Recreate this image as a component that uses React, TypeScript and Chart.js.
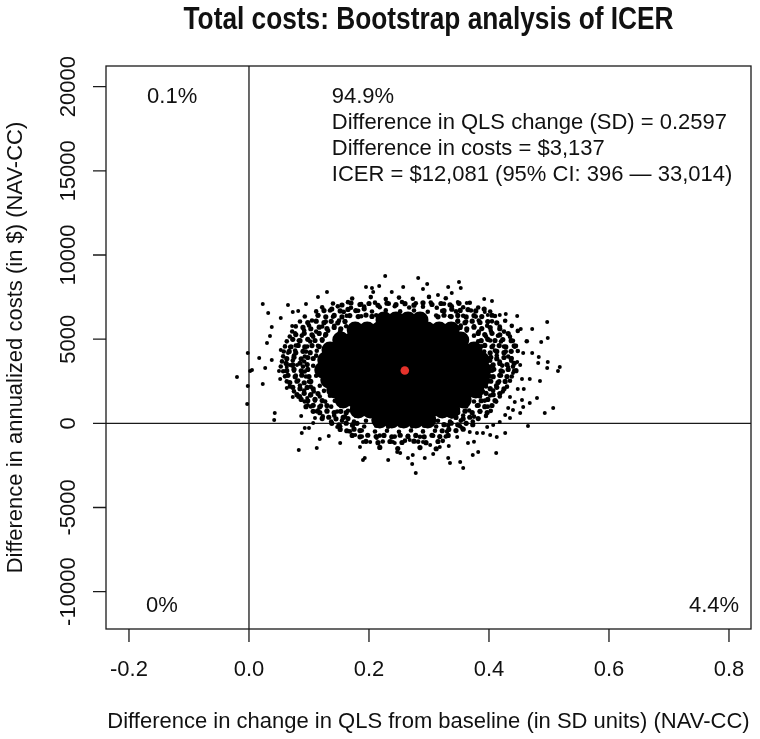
import React, { useEffect, useRef } from "react";
import { Chart, registerables } from "chart.js";

Chart.register(...registerables);

// ---- axis ticks ----
const xTickValues = [-0.2, 0, 0.2, 0.4, 0.6, 0.8];
const xTickLabels = ["-0.2", "0.0", "0.2", "0.4", "0.6", "0.8"];
const yTickValues = [-10000, -5000, 0, 5000, 10000, 15000, 20000];
const yTickLabels = ["-10000", "-5000", "0", "5000", "10000", "15000", "20000"];

// ---- texts ----
const chartTitle = "Total costs: Bootstrap analysis of ICER";
const xAxisTitle = "Difference in change in QLS from baseline (in SD units) (NAV-CC)";
const yAxisTitle = "Difference in annualized costs (in $) (NAV-CC)";
const quadrantTexts = ["0.1%", "0%", "4.4%"];
const summaryLines = [
  "94.9%",
  "Difference in QLS change (SD) = 0.2597",
  "Difference in costs = $3,137",
  "ICER = $12,081 (95% CI: 396 \u2014 33,014)",
];

// ---- data: mean estimate ----
const meanPoint = [[0.2597, 3137]];

// ---- data: dense centre of the bootstrap cloud ----
const cloudCore = [
  [0.225, 6140], [0.245, 6140], [0.265, 6140], [0.285, 6140],
  [0.177, 5545], [0.197, 5545], [0.217, 5545], [0.237, 5545], [0.257, 5545], [0.277, 5545], [0.297, 5545], [0.317, 5545], [0.337, 5545],
  [0.153, 4950], [0.173, 4950], [0.193, 4950], [0.213, 4950], [0.233, 4950], [0.253, 4950], [0.273, 4950], [0.293, 4950], [0.313, 4950], [0.333, 4950], [0.353, 4950],
  [0.135, 4355], [0.155, 4355], [0.175, 4355], [0.195, 4355], [0.215, 4355], [0.235, 4355], [0.255, 4355], [0.275, 4355], [0.295, 4355], [0.315, 4355], [0.335, 4355], [0.355, 4355], [0.375, 4355],
  [0.128, 3760], [0.148, 3760], [0.168, 3760], [0.188, 3760], [0.208, 3760], [0.228, 3760], [0.248, 3760], [0.268, 3760], [0.288, 3760], [0.308, 3760], [0.328, 3760], [0.348, 3760], [0.368, 3760], [0.387, 3760],
  [0.123, 3165], [0.143, 3165], [0.163, 3165], [0.183, 3165], [0.203, 3165], [0.223, 3165], [0.243, 3165], [0.263, 3165], [0.283, 3165], [0.303, 3165], [0.323, 3165], [0.343, 3165], [0.363, 3165], [0.383, 3165], [0.39, 3165],
  [0.133, 2575], [0.153, 2575], [0.173, 2575], [0.193, 2575], [0.213, 2575], [0.233, 2575], [0.253, 2575], [0.273, 2575], [0.293, 2575], [0.313, 2575], [0.333, 2575], [0.353, 2575], [0.373, 2575], [0.387, 2575],
  [0.143, 1980], [0.163, 1980], [0.183, 1980], [0.203, 1980], [0.223, 1980], [0.243, 1980], [0.263, 1980], [0.283, 1980], [0.303, 1980], [0.323, 1980], [0.343, 1980], [0.363, 1980], [0.378, 1980],
  [0.157, 1385], [0.177, 1385], [0.197, 1385], [0.217, 1385], [0.237, 1385], [0.257, 1385], [0.277, 1385], [0.297, 1385], [0.317, 1385], [0.337, 1385], [0.357, 1385],
  [0.182, 790], [0.202, 790], [0.222, 790], [0.242, 790], [0.262, 790], [0.282, 790], [0.302, 790], [0.322, 790], [0.338, 790],
  [0.218, 195], [0.238, 195], [0.258, 195], [0.278, 195], [0.298, 195],
];

// ---- data: dense fringe hugging the centre ----
const cloudFringe = [
  [0.155, 7030], [0.17, 7150], [0.185, 7060], [0.2, 7120], [0.215, 7010], [0.23, 7140], [0.245, 7050], [0.26, 7110], [0.275, 7020], [0.29, 7160], [0.305, 7060], [0.32, 7120], [0.335, 7040], [0.35, 7130],
  [0.125, 6700], [0.138, 6790], [0.152, 6680], [0.165, 6770], [0.178, 6700], [0.192, 6800], [0.325, 6690], [0.338, 6780], [0.352, 6710], [0.365, 6760], [0.378, 6680], [0.392, 6790],
  [0.115, 6420], [0.128, 6330], [0.142, 6410], [0.155, 6320], [0.168, 6400], [0.182, 6340], [0.195, 6430], [0.205, 6350], [0.315, 6330], [0.325, 6420], [0.337, 6340], [0.348, 6410], [0.362, 6320], [0.375, 6400], [0.388, 6340], [0.405, 6420],
  [0.098, 5990], [0.112, 6070], [0.125, 5980], [0.137, 6060], [0.148, 5970], [0.16, 6050], [0.348, 6060], [0.36, 5980], [0.372, 6070], [0.385, 5990], [0.398, 6050], [0.413, 5970],
  [0.09, 5700], [0.103, 5620], [0.117, 5710], [0.13, 5630], [0.142, 5700], [0.153, 5620], [0.352, 5700], [0.363, 5620], [0.375, 5710], [0.388, 5630], [0.402, 5690], [0.418, 5620],
  [0.078, 5270], [0.092, 5350], [0.105, 5260], [0.117, 5340], [0.128, 5280], [0.382, 5340], [0.393, 5270], [0.405, 5350], [0.418, 5260], [0.432, 5330],
  [0.073, 4990], [0.085, 4910], [0.098, 4990], [0.11, 4920], [0.122, 4980], [0.387, 4910], [0.398, 4990], [0.41, 4920], [0.423, 4980], [0.437, 4910],
  [0.07, 4550], [0.082, 4630], [0.093, 4540], [0.105, 4620], [0.117, 4560], [0.393, 4630], [0.405, 4550], [0.417, 4620], [0.428, 4540], [0.442, 4610],
  [0.067, 4270], [0.078, 4190], [0.09, 4280], [0.102, 4200], [0.402, 4190], [0.413, 4270], [0.425, 4200], [0.437, 4280],
  [0.063, 3840], [0.075, 3920], [0.087, 3830], [0.098, 3910], [0.107, 3850], [0.403, 3920], [0.413, 3840], [0.425, 3910], [0.437, 3850],
  [0.062, 3560], [0.073, 3480], [0.085, 3570], [0.097, 3490], [0.407, 3480], [0.418, 3560], [0.43, 3490], [0.442, 3570],
  [0.063, 3130], [0.075, 3210], [0.087, 3120], [0.098, 3200], [0.408, 3210], [0.42, 3120], [0.432, 3200], [0.445, 3130],
  [0.065, 2850], [0.077, 2770], [0.088, 2860], [0.1, 2780], [0.407, 2770], [0.418, 2850], [0.43, 2780],
  [0.068, 2420], [0.08, 2500], [0.092, 2410], [0.103, 2490], [0.403, 2500], [0.415, 2420], [0.427, 2490],
  [0.073, 2140], [0.085, 2060], [0.097, 2130], [0.107, 2050], [0.402, 2060], [0.413, 2140], [0.425, 2050],
  [0.08, 1700], [0.092, 1780], [0.103, 1700], [0.115, 1770], [0.395, 1780], [0.407, 1700], [0.418, 1770],
  [0.087, 1420], [0.098, 1340], [0.11, 1430], [0.122, 1350], [0.387, 1340], [0.398, 1420], [0.41, 1350],
  [0.095, 990], [0.107, 1070], [0.118, 980], [0.13, 1060], [0.382, 1070], [0.393, 990], [0.405, 1060],
  [0.107, 710], [0.118, 630], [0.13, 720], [0.142, 640], [0.153, 710], [0.162, 630], [0.348, 640], [0.36, 720], [0.372, 630], [0.385, 710], [0.397, 640],
  [0.122, 280], [0.133, 360], [0.145, 270], [0.157, 350], [0.165, 280], [0.345, 350], [0.357, 270], [0.368, 360], [0.382, 280],
  [0.138, 0], [0.15, -90], [0.162, 10], [0.173, -80], [0.18, 0], [0.325, -80], [0.337, 10], [0.348, -90], [0.362, 0], [0.373, -80],
  [0.152, -360], [0.163, -440], [0.175, -350], [0.185, -430], [0.322, -440], [0.333, -360], [0.345, -430], [0.357, -350],
  [0.172, -720], [0.185, -800], [0.198, -710], [0.212, -790], [0.225, -720], [0.238, -800], [0.252, -710], [0.265, -790], [0.278, -720], [0.292, -800], [0.305, -710], [0.318, -790], [0.332, -720],
  [0.195, -1070], [0.215, -1150], [0.235, -1080], [0.255, -1140], [0.275, -1060], [0.295, -1150], [0.315, -1080],
  [0.218, -1430], [0.248, -1500], [0.285, -1440], [0.312, -1510],
];

// ---- data: speckled band around the centre ----
const cloudBand = [
  [0.172, 7420], [0.203, 7500], [0.228, 7380], [0.25, 7470], [0.273, 7400], [0.3, 7510], [0.328, 7430],
  [0.14, 7120], [0.165, 7200], [0.187, 7090], [0.21, 7170], [0.233, 7110], [0.255, 7210], [0.278, 7130], [0.303, 7180], [0.325, 7100], [0.368, 7160],
  [0.122, 6890], [0.148, 6950], [0.17, 6870], [0.192, 6940], [0.218, 6900], [0.243, 6960], [0.267, 6880], [0.29, 6930], [0.313, 6870], [0.338, 6950], [0.357, 6900], [0.382, 6880],
  [0.112, 6650], [0.135, 6700], [0.158, 6620], [0.182, 6690], [0.205, 6640], [0.228, 6710], [0.252, 6650], [0.275, 6700], [0.298, 6630], [0.322, 6680], [0.345, 6650], [0.37, 6700], [0.402, 6640],
  [0.093, 6350], [0.115, 6410], [0.14, 6330], [0.163, 6390], [0.187, 6360], [0.212, 6420], [0.237, 6340], [0.262, 6400], [0.287, 6350], [0.312, 6410], [0.335, 6360], [0.357, 6390], [0.378, 6340], [0.41, 6380],
  [0.085, 6050], [0.105, 6110], [0.128, 6040], [0.15, 6100], [0.16, 6060], [0.348, 6100], [0.362, 6050], [0.383, 6110], [0.405, 6060], [0.427, 6090],
  [0.078, 5760], [0.1, 5810], [0.122, 5750], [0.142, 5800], [0.162, 5770], [0.353, 5810], [0.375, 5760], [0.397, 5800], [0.418, 5750], [0.438, 5790],
  [0.072, 5460], [0.092, 5510], [0.112, 5450], [0.132, 5500], [0.152, 5470], [0.363, 5510], [0.383, 5460], [0.403, 5500], [0.425, 5450], [0.448, 5490],
  [0.068, 5160], [0.088, 5210], [0.107, 5150], [0.127, 5200], [0.147, 5170], [0.375, 5210], [0.395, 5160], [0.415, 5200], [0.435, 5150],
  [0.063, 4870], [0.083, 4920], [0.102, 4860], [0.122, 4910], [0.382, 4870], [0.402, 4920], [0.42, 4860], [0.44, 4910], [0.463, 4880],
  [0.06, 4570], [0.078, 4620], [0.097, 4560], [0.115, 4610], [0.387, 4570], [0.407, 4620], [0.425, 4560], [0.445, 4600],
  [0.058, 4270], [0.077, 4320], [0.095, 4260], [0.113, 4310], [0.392, 4270], [0.41, 4320], [0.428, 4260], [0.448, 4300],
  [0.057, 3980], [0.075, 4030], [0.093, 3970], [0.112, 4020], [0.393, 3980], [0.413, 4030], [0.432, 3970],
  [0.055, 3680], [0.073, 3730], [0.092, 3670], [0.402, 3720], [0.418, 3670], [0.437, 3720],
  [0.053, 3380], [0.072, 3430], [0.09, 3370], [0.107, 3420], [0.403, 3380], [0.422, 3430], [0.44, 3370],
  [0.057, 3090], [0.075, 3130], [0.093, 3080], [0.405, 3130], [0.423, 3080], [0.442, 3120],
  [0.06, 2790], [0.078, 2840], [0.095, 2780], [0.112, 2830], [0.402, 2790], [0.42, 2840], [0.438, 2780],
  [0.063, 2490], [0.082, 2540], [0.1, 2480], [0.4, 2540], [0.417, 2490], [0.435, 2530],
  [0.068, 2190], [0.085, 2240], [0.103, 2180], [0.118, 2230], [0.395, 2190], [0.412, 2240], [0.43, 2180],
  [0.075, 1900], [0.092, 1940], [0.108, 1890], [0.125, 1930], [0.39, 1890], [0.407, 1940], [0.423, 1890],
  [0.085, 1600], [0.102, 1650], [0.118, 1590], [0.135, 1640], [0.385, 1600], [0.402, 1650], [0.418, 1590],
  [0.093, 1300], [0.11, 1350], [0.127, 1290], [0.143, 1340], [0.375, 1300], [0.393, 1350], [0.412, 1290],
  [0.103, 1000], [0.12, 1050], [0.137, 990], [0.153, 1040], [0.362, 1000], [0.38, 1050], [0.398, 990],
  [0.113, 710], [0.13, 760], [0.147, 700], [0.165, 750], [0.348, 710], [0.367, 760], [0.385, 700], [0.403, 740],
  [0.123, 410], [0.142, 460], [0.16, 400], [0.178, 450], [0.338, 410], [0.357, 460], [0.375, 400], [0.395, 440],
  [0.137, 110], [0.155, 160], [0.175, 100], [0.195, 150], [0.215, 110], [0.235, 170], [0.255, 100], [0.275, 160], [0.295, 110], [0.315, 150], [0.335, 100], [0.353, 160], [0.373, 110],
  [0.152, -180], [0.172, -130], [0.192, -190], [0.212, -140], [0.232, -200], [0.252, -130], [0.272, -180], [0.292, -140], [0.312, -190], [0.332, -130], [0.352, -170],
  [0.168, -480], [0.188, -430], [0.21, -490], [0.23, -440], [0.25, -500], [0.27, -430], [0.29, -480], [0.31, -440], [0.33, -490],
  [0.188, -780], [0.218, -730], [0.243, -790], [0.265, -740], [0.285, -800], [0.307, -740], [0.328, -780],
  [0.223, -1080], [0.26, -1030], [0.282, -1090], [0.323, -1040],
];

// ---- data: sparse outer replicates ----
const cloudOuter = [
  [0.227, 8750], [0.195, 8100], [0.205, 8040], [0.217, 8160], [0.207, 7800], [0.13, 7800], [0.115, 7500],
  [0.023, 7090], [0.065, 7030], [0.095, 7090], [0.032, 6550], [0.053, 6260], [0.038, 5720], [0.035, 5190],
  [0.03, 4770], [-0.002, 4180], [0.017, 3880], [0.038, 3760], [0.053, 4360], [0.002, 3110], [0.073, 6610],
  [0.082, 6670], [0.072, 5780], [0.077, 5370], [0.068, 4530], [0.065, 4180], [0.068, 3460], [0.08, 3460],
  [0.282, 8630], [0.297, 8280], [0.257, 8100], [0.29, 7980], [0.238, 7800], [0.35, 8400], [0.353, 8040],
  [0.332, 8100], [0.315, 7620], [0.338, 7740], [0.363, 7150], [0.348, 7210], [0.392, 7390], [0.405, 7270],
  [0.393, 6610], [0.398, 6440], [0.418, 6430], [0.428, 6490], [0.447, 6380], [0.497, 6020], [0.453, 5600],
  [0.472, 5600], [0.487, 4830], [0.498, 5070], [0.443, 4530], [0.457, 4180], [0.472, 4180], [0.483, 3940],
  [0.498, 3640], [0.482, 3580], [0.497, 3290], [0.518, 3350], [0.515, 3110], [0.468, 2630], [0.485, 2510],
  [0.455, 2630], [0.448, 2040], [0.458, 2040], [0.48, 1500], [0.468, 1210], [0.455, 1380], [0.457, 970],
  [0.507, 910], [0.493, 610], [0.44, 790], [0.452, 610], [0.432, 910], [0.438, 3880], [0.447, 3640],
  [0.452, 3460], [0.432, 3350], [0.44, 2990],
  [-0.02, 2750], [0.005, 3170], [0.027, 3290], [0.05, 3110], [0.063, 3350], [-0.002, 2220], [0.023, 2340],
  [0.052, 2630], [0.063, 2100], [-0.003, 1150], [0.043, 610], [0.042, 200], [0.073, 1560], [0.082, 1560],
  [0.097, 1500], [0.098, 1090], [0.087, 430], [0.115, 790], [0.11, 310], [0.107, 20], [0.1, -280],
  [0.093, -280], [0.088, -580], [0.083, -1590], [0.113, -1470], [0.118, -930], [0.133, -750], [0.152, -1170],
  [0.147, -220], [0.177, -700], [0.19, -1110], [0.185, -1410], [0.193, -2060], [0.19, -2180], [0.232, -2180],
  [0.247, -1700], [0.202, -1110], [0.213, -870], [0.24, -1110],
  [0.278, -2950], [0.265, -2060], [0.272, -2420], [0.273, -1880], [0.252, -1770], [0.293, -2060], [0.307, -1820],
  [0.332, -2060], [0.335, -2360], [0.352, -2300], [0.357, -2660], [0.318, -1410], [0.333, -1350], [0.373, -1880],
  [0.382, -1700], [0.412, -1770], [0.365, -1170], [0.375, -1100], [0.427, -580], [0.413, -810], [0.402, -700],
  [0.39, -580], [0.465, -160], [0.435, 320], [0.427, 490], [0.418, 80], [0.443, 1270], [0.435, 1560],
  [0.29, -1110], [0.302, -1290], [0.268, -990], [0.243, -1170], [0.38, -580], [0.368, -520], [0.347, -810],
  [0.355, -280], [0.397, -220], [0.407, -100],
];

// ---- axis ranges (R's 4% extension of the drawn region) ----
const xRange = [-0.2383, 0.8367];
const yRange = [-12220, 21230];

// ---- annotation anchors in data units (baseline positions) ----
const annotationAnchors = {
  topLeft: [-0.128, 19060],
  summary: [0.138, 19060],
  bottomLeft: [-0.145, -11195],
  bottomRight: [0.775, -11195],
};

const FONT = '"Liberation Sans", Arial, Helvetica, sans-serif';
const INK = "#111111";

const toXY = (arr: number[][]) => arr.map(([x, y]) => ({ x, y }));

const decorPlugin = {
  id: "rDecor",
  beforeDatasetsDraw(chart: any) {
    const { ctx, chartArea: a, scales } = chart;
    const x0 = scales.x.getPixelForValue(0);
    const y0 = scales.y.getPixelForValue(0);
    ctx.save();
    ctx.strokeStyle = "#1a1a1a";
    ctx.lineWidth = 1.3;
    ctx.beginPath();
    ctx.moveTo(x0, a.top);
    ctx.lineTo(x0, a.bottom);
    ctx.moveTo(a.left, y0);
    ctx.lineTo(a.right, y0);
    ctx.stroke();
    ctx.restore();
  },
  afterDraw(chart: any) {
    const { ctx, chartArea: a, scales } = chart;
    const sx = scales.x;
    const sy = scales.y;
    ctx.save();
    // box
    ctx.strokeStyle = "#1a1a1a";
    ctx.lineWidth = 1.3;
    ctx.strokeRect(a.left, a.top, a.right - a.left, a.bottom - a.top);
    // ticks
    const tickLen = 13;
    ctx.beginPath();
    xTickValues.forEach((v) => {
      const px = sx.getPixelForValue(v);
      ctx.moveTo(px, a.bottom);
      ctx.lineTo(px, a.bottom + tickLen);
    });
    yTickValues.forEach((v) => {
      const py = sy.getPixelForValue(v);
      ctx.moveTo(a.left, py);
      ctx.lineTo(a.left - tickLen, py);
    });
    ctx.stroke();

    ctx.fillStyle = INK;
    ctx.font = `22px ${FONT}`;
    // x tick labels
    ctx.textAlign = "center";
    ctx.textBaseline = "alphabetic";
    xTickValues.forEach((v, i) => {
      ctx.fillText(xTickLabels[i], sx.getPixelForValue(v), a.bottom + 47);
    });
    // y tick labels (rotated, R style)
    yTickValues.forEach((v, i) => {
      ctx.save();
      ctx.translate(a.left - 31, sy.getPixelForValue(v));
      ctx.rotate(-Math.PI / 2);
      ctx.fillText(yTickLabels[i], 0, 0);
      ctx.restore();
    });
    // axis titles
    const cx = (a.left + a.right) / 2;
    const cy = (a.top + a.bottom) / 2;
    ctx.fillText(xAxisTitle, cx, a.bottom + 99);
    ctx.save();
    ctx.translate(a.left - 84, cy);
    ctx.rotate(-Math.PI / 2);
    ctx.fillText(yAxisTitle, 0, 0);
    ctx.restore();

    // quadrant percentages
    const anchor = (p: number[]) => [sx.getPixelForValue(p[0]), sy.getPixelForValue(p[1])];
    let p = anchor(annotationAnchors.topLeft);
    ctx.fillText(quadrantTexts[0], p[0], p[1]);
    p = anchor(annotationAnchors.bottomLeft);
    ctx.fillText(quadrantTexts[1], p[0], p[1]);
    p = anchor(annotationAnchors.bottomRight);
    ctx.fillText(quadrantTexts[2], p[0], p[1]);
    // summary block
    ctx.textAlign = "left";
    p = anchor(annotationAnchors.summary);
    summaryLines.forEach((line, i) => {
      ctx.fillText(line, p[0], p[1] + i * 26.3);
    });

    // title
    ctx.font = `bold 31px "Liberation Sans Narrow", "Arial Narrow", ${FONT}`;
    ctx.textAlign = "center";
    const w = ctx.measureText(chartTitle).width;
    const target = 490;
    ctx.save();
    ctx.translate(cx, 29);
    if (w > target) ctx.scale(target / w, 1);
    ctx.fillText(chartTitle, 0, 0);
    ctx.restore();
    ctx.restore();
  },
};

export default function App() {
  const canvasRef = useRef<HTMLCanvasElement | null>(null);

  useEffect(() => {
    if (!canvasRef.current) return;
    const dot = (label: string, pts: number[][], color: string, r: number) => ({
      label,
      data: toXY(pts),
      backgroundColor: color,
      pointRadius: r,
      pointBorderWidth: 0,
    });
    const chart = new Chart(canvasRef.current, {
      type: "scatter",
      data: {
        datasets: [
          dot("Mean", meanPoint, "#e5322b", 4.3),
          dot("Outer", cloudOuter, "#000000", 2.0),
          dot("Band", cloudBand, "#000000", 2.3),
          dot("Fringe", cloudFringe, "#000000", 2.6),
          dot("Core", cloudCore, "#000000", 8.5),
        ],
      },
      options: {
        animation: false,
        responsive: false,
        maintainAspectRatio: false,
        devicePixelRatio: 1,
        events: [],
        layout: { padding: { left: 106, top: 66, right: 9, bottom: 110 } },
        plugins: {
          legend: { display: false },
          tooltip: { enabled: false },
          title: { display: false },
        },
        scales: {
          x: { type: "linear", min: xRange[0], max: xRange[1], display: false },
          y: { type: "linear", min: yRange[0], max: yRange[1], display: false },
        },
      },
      plugins: [decorPlugin],
    });
    return () => chart.destroy();
  }, []);

  return (
    <div style={{ position: "absolute", left: 0, top: 0, width: 760, height: 739, background: "#ffffff" }}>
      <canvas ref={canvasRef} width={760} height={739} style={{ display: "block" }} />
    </div>
  );
}
